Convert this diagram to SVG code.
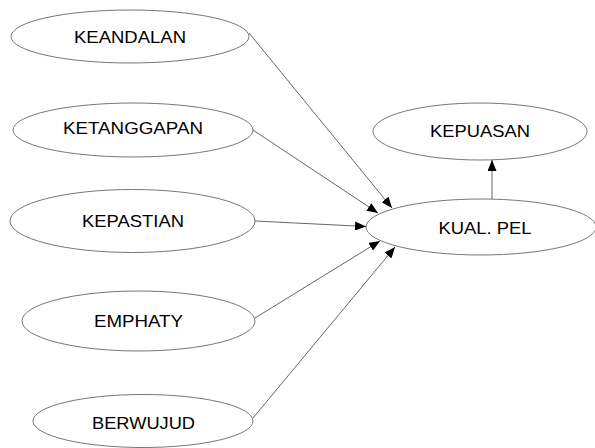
<svg xmlns="http://www.w3.org/2000/svg" width="595" height="448" viewBox="0 0 595 448">
<style>
.n ellipse{fill:#fff;stroke:#777;stroke-width:1}
.n text{font-family:"Liberation Sans",Arial,sans-serif;font-size:16px;fill:#000;text-anchor:middle}
.c line{stroke:#555;stroke-width:0.9;marker-end:url(#ah)}
</style>
<defs>
<marker id="ah" markerWidth="11" markerHeight="9" refX="11" refY="4.5" orient="auto" markerUnits="userSpaceOnUse">
<path d="M0,0 L11,4.5 L0,9 Z" fill="#000"/>
</marker>
</defs>
<rect width="595" height="448" fill="#fff"/>
<g id="KEANDALAN" class="n"><ellipse cx="130" cy="36.5" rx="119" ry="26.5"/><text x="130" y="43" textLength="112" lengthAdjust="spacingAndGlyphs">KEANDALAN</text></g>
<g id="KETANGGAPAN" class="n"><ellipse cx="133" cy="130" rx="120" ry="27"/><text x="133" y="134" textLength="140" lengthAdjust="spacingAndGlyphs">KETANGGAPAN</text></g>
<g id="KEPASTIAN" class="n"><ellipse cx="132.5" cy="221" rx="122.5" ry="31.5"/><text x="133" y="227" textLength="102" lengthAdjust="spacingAndGlyphs">KEPASTIAN</text></g>
<g id="EMPHATY" class="n"><ellipse cx="138.5" cy="321" rx="116.5" ry="30"/><text x="138.5" y="327" textLength="89" lengthAdjust="spacingAndGlyphs">EMPHATY</text></g>
<g id="BERWUJUD" class="n"><ellipse cx="143" cy="421" rx="110" ry="26.5"/><text x="143.5" y="429" textLength="103" lengthAdjust="spacingAndGlyphs">BERWUJUD</text></g>
<g id="KEPUASAN" class="n"><ellipse cx="480" cy="131.5" rx="107" ry="28.5"/><text x="480" y="137" textLength="100" lengthAdjust="spacingAndGlyphs">KEPUASAN</text></g>
<g id="KUALPEL" class="n"><ellipse cx="481" cy="227" rx="115" ry="28"/><text x="485" y="234" textLength="93" lengthAdjust="spacingAndGlyphs">KUAL. PEL</text></g>
<g id="connectors" class="c">
<line x1="249" y1="33" x2="392" y2="208"/>
<line x1="253" y1="130" x2="378" y2="213"/>
<line x1="255" y1="221" x2="366" y2="226.5"/>
<line x1="255" y1="318" x2="380" y2="241"/>
<line x1="253" y1="418" x2="395" y2="247"/>
<line x1="492" y1="199" x2="492" y2="160"/>
</g>
</svg>
